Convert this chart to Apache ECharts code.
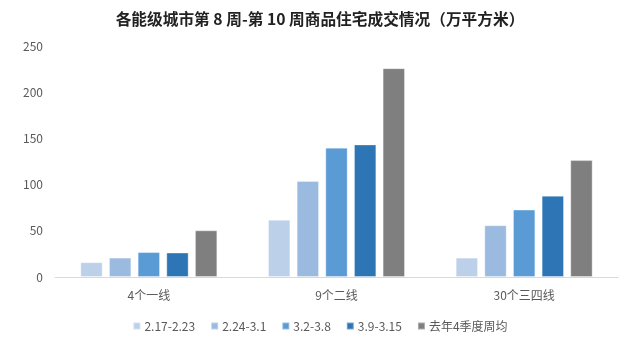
<!DOCTYPE html>
<html>
<head>
<meta charset="utf-8">
<script src="https://cdn.jsdelivr.net/npm/echarts@6/dist/echarts.min.js"></script>
<style>
  html, body { margin: 0; padding: 0; background: #fff; }
  #chart { width: 640px; height: 354px; }
</style>
</head>
<body>
<div id="chart"></div>
<script>
const categories = ['4个一线', '9个二线', '30个三四线']
const seriesNames = ['2.17-2.23', '2.24-3.1', '3.2-3.8', '3.9-3.15', '去年4季度周均']
const week1 = [16, 62, 21]
const week2 = [21, 104, 56]
const week3 = [27, 140, 73]
const week4 = [26.5, 143.5, 88]
const lastQ4 = [50.5, 226, 126.5]
const yTicks = [0, 50, 100, 150, 200, 250]

const colors = ['#bdd0e9', '#9bbae0', '#5b9bd5', '#2e75b6', '#7f7f7f']
const values = [week1, week2, week3, week4, lastQ4]

const chart = echarts.init(document.getElementById('chart'))

chart.setOption({
  animation: false,
  title: {
    text: '各能级城市第 8 周-第 10 周商品住宅成交情况（万平方米）',
    left: 'center',
    top: 6,
    textStyle: { fontSize: 15.7, fontWeight: 'bold', color: '#222', fontFamily: 'Noto Sans CJK SC' }
  },
  legend: {
    bottom: 17,
    left: 'center',
    itemWidth: 7,
    itemHeight: 7,
    itemGap: 15,
    icon: 'rect',
    textStyle: { fontSize: 12, color: '#595959', fontFamily: 'Noto Sans CJK SC', padding: [0, 0, 0, -1] },
    data: seriesNames
  },
  grid: { left: 55, right: 22, top: 46, bottom: 77 },
  xAxis: {
    type: 'category',
    data: categories,
    axisLine: { lineStyle: { color: '#d9d9d9' } },
    axisTick: { show: false },
    axisLabel: { fontSize: 12, color: '#595959', margin: 12, fontFamily: 'Noto Sans CJK SC' }
  },
  yAxis: {
    type: 'value',
    min: yTicks[0],
    max: yTicks[yTicks.length - 1],
    interval: 50,
    axisLine: { show: false },
    axisTick: { show: false },
    splitLine: { show: false },
    axisLabel: { fontSize: 12, color: '#595959', margin: 12, fontFamily: 'Noto Sans CJK SC' }
  },
  series: seriesNames.map((name, i) => ({
    name,
    type: 'bar',
    data: values[i],
    barGap: '28%',
    barCategoryGap: '27%',
    itemStyle: { color: colors[i], borderColor: 'rgba(255,255,255,0.35)', borderWidth: 1 }
  }))
})
</script>
</body>
</html>
